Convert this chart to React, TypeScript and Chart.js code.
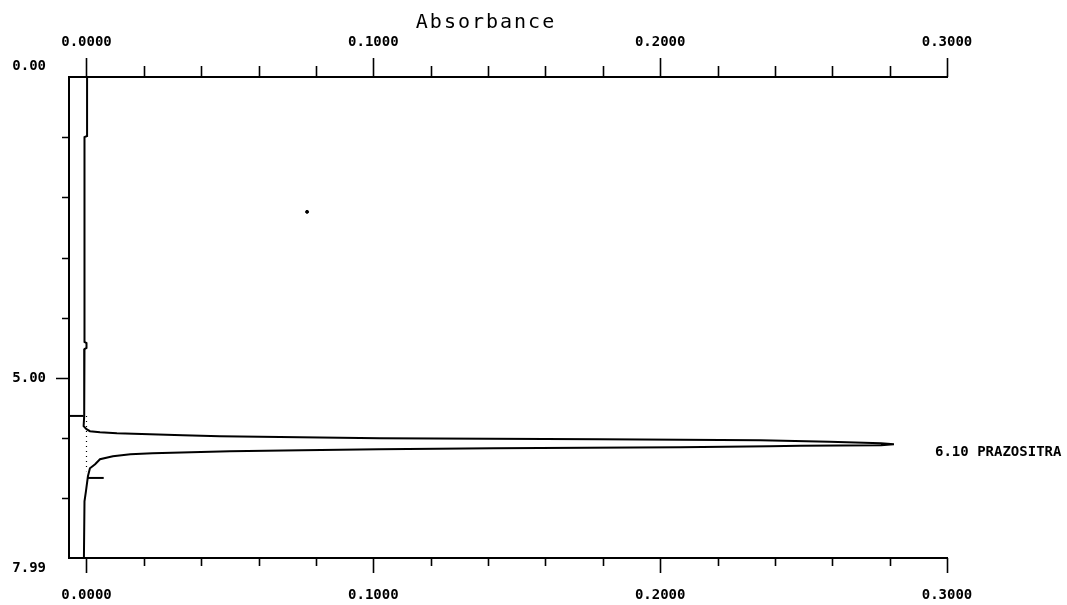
import React, { useEffect, useRef } from 'react';
import { Chart, registerables } from 'chart.js';

Chart.register(...registerables);

// Retention time (min) of the detector trace, top (0) to bottom (7.99)
const traceTime = [
  0.0, 0.98, 1.0, 4.4, 4.42, 4.5, 4.52, 5.63, 5.8, 5.85, 5.883, 5.9, 5.917, 5.933, 5.95, 5.967,
  5.983, 6.0, 6.017, 6.033, 6.058, 6.083, 6.1, 6.117, 6.125, 6.133, 6.15, 6.167, 6.183, 6.2,
  6.217, 6.25, 6.267, 6.3, 6.35, 6.433, 6.5, 6.633, 6.883, 7.05, 7.99,
];
// Absorbance of the detector trace at each time above
const traceAbs = [
  0.0002, 0.0002, -0.0007, -0.0007, 0.0, 0.0, -0.0007, -0.0008, -0.001, 0.0, 0.0012, 0.0047,
  0.0106, 0.0221, 0.0336, 0.0465, 0.0744, 0.1023, 0.179, 0.235, 0.259, 0.277, 0.2815, 0.277,
  0.249, 0.238, 0.207, 0.142, 0.102, 0.075, 0.05, 0.023, 0.0153, 0.0092, 0.0047, 0.003, 0.0012,
  0.0005, -0.0002, -0.0007, -0.0009,
];

// Integration markers (peak start / peak end)
const startMarkerTime = [5.63, 5.63];
const startMarkerAbs = [-0.0061, -0.001];
const endMarkerTime = [6.66, 6.66];
const endMarkerAbs = [0.0005, 0.006];
// Dotted baseline under the peak
const baselineTime = [5.63, 6.55];
const baselineAbs = [0.0, 0.0];
// Stray speck on the record
const speckTime = [2.24];
const speckAbs = [0.0769];

// Peak annotation
const peakTime = 6.1;
const peakLabel = '6.10 PRAZOSITRA';

// Axes
const xMin = -0.0061;
const xMax = 0.3;
const xMajorTicks = [0, 0.1, 0.2, 0.3];
const xMinorTicks = [0.02, 0.04, 0.06, 0.08, 0.12, 0.14, 0.16, 0.18, 0.22, 0.24, 0.26, 0.28];
const yMin = 0;
const yMax = 7.99;
const yTicks = [0, 1, 2, 3, 4, 5, 6, 7, 7.99];
const yTickMarks = [1, 2, 3, 4, 5, 6, 7];
const axisTitle = 'Absorbance';

const MONO = '"DejaVu Sans Mono", "Liberation Mono", monospace';

const isMajorX = (v: number) => xMajorTicks.some((m) => Math.abs(m - v) < 1e-9);
const allXTicks = [...xMajorTicks, ...xMinorTicks].sort((a, b) => a - b);
const pts = (xs: number[], ys: number[]) => ys.map((t, i) => ({ x: xs[i], y: t }));

const drawPlugin = {
  id: 'hplcDecor',
  afterDraw(chart: any) {
    const ctx = chart.ctx as CanvasRenderingContext2D;
    const xt = chart.scales.x;
    const xb = chart.scales.x2;
    const ys = chart.scales.y;
    const area = chart.chartArea;
    ctx.save();
    ctx.strokeStyle = '#000';
    ctx.lineWidth = 1.6;
    ctx.beginPath();
    allXTicks.forEach((v) => {
      const px = Math.round(xt.getPixelForValue(v)) + 0.5;
      const len = isMajorX(v) ? 19 : 11;
      ctx.moveTo(px, area.top);
      ctx.lineTo(px, area.top - len);
    });
    allXTicks.forEach((v) => {
      const px = Math.round(xb.getPixelForValue(v)) + 0.5;
      const len = isMajorX(v) ? 15 : 8;
      ctx.moveTo(px, area.bottom);
      ctx.lineTo(px, area.bottom + len);
    });
    yTickMarks.forEach((v) => {
      const py = Math.round(ys.getPixelForValue(v)) + 0.5;
      const len = v === 5 ? 13 : 7;
      ctx.moveTo(area.left, py);
      ctx.lineTo(area.left - len, py);
    });
    ctx.stroke();

    // axis title
    ctx.fillStyle = '#000';
    ctx.font = `20px ${MONO}`;
    try {
      (ctx as any).letterSpacing = '2px';
    } catch (e) {}
    ctx.textAlign = 'center';
    ctx.textBaseline = 'middle';
    ctx.fillText(axisTitle, 486, 23);
    try {
      (ctx as any).letterSpacing = '0px';
    } catch (e) {}

    // peak label
    ctx.font = `bold 14px ${MONO}`;
    ctx.textAlign = 'left';
    ctx.fillText(peakLabel, area.right - 12, ys.getPixelForValue(peakTime) + 8);
    ctx.restore();
  },
};

export default function App() {
  const ref = useRef<HTMLCanvasElement>(null);

  useEffect(() => {
    document.body.style.margin = '0';
    const canvas = ref.current;
    if (!canvas) return;
    const tickFont = { family: MONO, size: 14, weight: 'bold' as const };
    const chart = new Chart(canvas, {
      type: 'scatter',
      data: {
        datasets: [
          {
            label: 'trace',
            data: pts(traceAbs, traceTime),
            showLine: true,
            borderColor: '#000',
            borderWidth: 2,
            pointRadius: 0,
            xAxisID: 'x',
            yAxisID: 'y',
          },
          {
            label: 'start',
            data: pts(startMarkerAbs, startMarkerTime),
            showLine: true,
            borderColor: '#000',
            borderWidth: 2,
            pointRadius: 0,
            xAxisID: 'x',
            yAxisID: 'y',
          },
          {
            label: 'end',
            data: pts(endMarkerAbs, endMarkerTime),
            showLine: true,
            borderColor: '#000',
            borderWidth: 2,
            pointRadius: 0,
            xAxisID: 'x',
            yAxisID: 'y',
          },
          {
            label: 'baseline',
            data: pts(baselineAbs, baselineTime),
            showLine: true,
            borderColor: '#000',
            borderWidth: 1.2,
            borderDash: [1, 4],
            pointRadius: 0,
            xAxisID: 'x',
            yAxisID: 'y',
          },
          {
            label: 'speck',
            data: pts(speckAbs, speckTime),
            showLine: false,
            backgroundColor: '#000',
            borderColor: '#000',
            pointRadius: 1.5,
            xAxisID: 'x',
            yAxisID: 'y',
          },
        ],
      },
      options: {
        animation: false,
        responsive: false,
        layout: { padding: { left: 0, right: 120, top: 0, bottom: 0 } },
        plugins: {
          legend: { display: false },
          tooltip: { enabled: false },
          title: { display: false },
        },
        scales: {
          x: {
            type: 'linear',
            position: 'top',
            min: xMin,
            max: xMax,
            afterBuildTicks: (s: any) => {
              s.ticks = allXTicks.map((v) => ({ value: v }));
            },
            afterFit: (s: any) => {
              s.height = 77;
            },
            ticks: {
              autoSkip: false,
              maxRotation: 0,
              padding: 26,
              color: '#000',
              font: tickFont,
              callback: (v: any) => (isMajorX(Number(v)) ? Number(v).toFixed(4) : ''),
            },
            grid: { display: false, drawTicks: false },
            border: { display: true, color: '#000', width: 2 },
          },
          x2: {
            type: 'linear',
            position: 'bottom',
            min: xMin,
            max: xMax,
            afterBuildTicks: (s: any) => {
              s.ticks = allXTicks.map((v) => ({ value: v }));
            },
            afterFit: (s: any) => {
              s.height = 47;
            },
            ticks: {
              autoSkip: false,
              maxRotation: 0,
              padding: 29,
              color: '#000',
              font: tickFont,
              callback: (v: any) => (isMajorX(Number(v)) ? Number(v).toFixed(4) : ''),
            },
            grid: { display: false, drawTicks: false },
            border: { display: true, color: '#000', width: 2 },
          },
          y: {
            type: 'linear',
            position: 'left',
            reverse: true,
            min: yMin,
            max: yMax,
            afterBuildTicks: (s: any) => {
              s.ticks = yTicks.map((v) => ({ value: v }));
            },
            afterFit: (s: any) => {
              s.width = 69;
            },
            ticks: {
              autoSkip: false,
              padding: 23,
              color: '#000',
              font: { ...tickFont, lineHeight: 1.45 },
              callback: (v: any) => {
                const n = Number(v);
                if (n === yMin) return [n.toFixed(2), ''];
                if (n === yMax) return ['', n.toFixed(2)];
                if (n === 5) return n.toFixed(2);
                return '';
              },
            },
            grid: { display: false, drawTicks: false },
            border: { display: true, color: '#000', width: 2 },
          },
        },
      },
      plugins: [drawPlugin],
    } as any);
    return () => chart.destroy();
  }, []);

  return (
    <div style={{ position: 'fixed', left: 0, top: 0, width: 1067, height: 605, background: '#fff' }}>
      <canvas ref={ref} width={1067} height={605} style={{ display: 'block' }} />
    </div>
  );
}
